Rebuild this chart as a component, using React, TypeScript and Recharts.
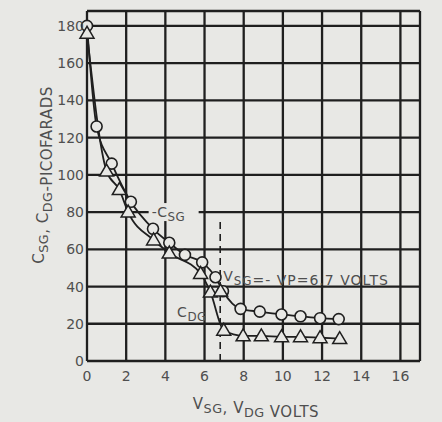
import React from "react";
import {
  LineChart,
  Line,
  XAxis,
  YAxis,
  CartesianGrid,
  ReferenceLine,
  ReferenceDot,
  Scatter,
} from "recharts";

// C_SG, circles
const csgVolts = [0, 0.49, 1.26, 2.24, 3.37, 4.2, 5.0, 5.88, 6.56, 6.94, 7.84, 8.82, 9.93, 10.9, 11.9, 12.85];
const csgPf = [180, 126, 106, 85.5, 71, 63.5, 57, 53, 45, 37.5, 28, 26.5, 25, 24, 23, 22.5];

// C_DG, triangles
const cdgVolts = [0, 1.0, 1.65, 2.1, 3.4, 4.2, 5.8, 6.3, 6.98, 7.97, 8.9, 9.93, 10.9, 11.9, 12.9];
const cdgPf = [176, 102, 92, 80, 65, 58, 47, 37, 16.5, 13.5, 13.5, 13, 13, 12.5, 12];

// stray triangle sitting on the C_SG curve
const strayVolts = [6.82];
const strayPf = [37.5];

const xTicks = [0, 2, 4, 6, 8, 10, 12, 14, 16];
const yTicks = [0, 20, 40, 60, 80, 100, 120, 140, 160, 180];
const pinchOff = 6.8;

const csgData = csgVolts.map((x, i) => ({ x, y: csgPf[i] }));
const cdgData = cdgVolts.map((x, i) => ({ x, y: cdgPf[i] }));
const strayData = strayVolts.map((x, i) => ({ x, y: strayPf[i] }));

const BG = "#e8e8e5";
const INK = "#1f1f1f";
const TEXT = "#4f4f4f";
const FONT = "'DejaVu Sans', sans-serif";

const Circle = (props: any) => {
  const { cx, cy } = props;
  if (cx == null || cy == null) return null;
  return <circle cx={cx} cy={cy} r={5.5} fill={BG} stroke={INK} strokeWidth={1.6} />;
};

const Triangle = (props: any) => {
  const { cx, cy } = props;
  if (cx == null || cy == null) return null;
  const s = 7;
  const pts = `${cx},${cy - s} ${cx - s},${cy + s * 0.7} ${cx + s},${cy + s * 0.7}`;
  return <polygon points={pts} fill={BG} stroke={INK} strokeWidth={1.5} />;
};

const Sub = ({ main, sub }: { main: string; sub: string }) => (
  <>
    <tspan>{main}</tspan>
    <tspan dy={4} fontSize="0.85em">{sub}</tspan>
    <tspan dy={-4}></tspan>
  </>
);

const note = (parts: React.ReactNode, w: number, spacing = 0.5) => (props: any) => {
  const { viewBox } = props;
  const x = viewBox.x;
  const y = viewBox.y;
  return (
    <g>
      {w > 0 && <rect x={x - 3} y={y - 9} width={w} height={18} fill={BG} />}
      <text x={x} y={y + 5} fontFamily={FONT} fontSize={14} fill={TEXT} letterSpacing={spacing}>
        {parts}
      </text>
    </g>
  );
};

export default function App() {
  return (
    <div style={{ position: "fixed", left: 0, top: 0, width: 442, height: 422, background: BG }}>
      <LineChart width={442} height={422} margin={{ top: 11, right: 22, bottom: 31, left: 47 }}>
        <CartesianGrid stroke={INK} strokeWidth={2.3} />
        <XAxis
          type="number"
          dataKey="x"
          domain={[0, 17]}
          ticks={xTicks}
          axisLine={false}
          tickLine={false}
          height={30}
          tickMargin={4}
          tick={{ fill: TEXT, fontSize: 14, fontFamily: FONT }}
          label={() => (
            <text x={256} y={409} textAnchor="middle" fontFamily={FONT} fontSize={15} fill={TEXT} letterSpacing={0.5}>
              <Sub main="V" sub="SG" />
              <tspan>, </tspan>
              <Sub main="V" sub="DG" />
              <tspan> VOLTS</tspan>
            </text>
          )}
        />
        <YAxis
          type="number"
          domain={[0, 188]}
          ticks={yTicks}
          axisLine={false}
          tickLine={false}
          width={40}
          tickSize={2}
          tickMargin={1}
          tick={{ fill: TEXT, fontSize: 14, fontFamily: FONT }}
          label={() => (
            <text
              x={0}
              y={0}
              transform="translate(44,175) rotate(-90)"
              textAnchor="middle"
              fontFamily={FONT}
              fontSize={15}
              fill={TEXT}
              letterSpacing={0.5}
            >
              <Sub main="C" sub="SG" />
              <tspan>, </tspan>
              <Sub main="C" sub="DG" />
              <tspan>-PICOFARADS</tspan>
            </text>
          )}
        />
        <ReferenceLine
          segment={[{ x: pinchOff, y: 0 }, { x: pinchOff, y: 77 }]}
          stroke={INK}
          strokeWidth={1.6}
          strokeDasharray="7 5"
        />
        <ReferenceDot
          x={3.3}
          y={80}
          r={0}
          label={note(<><tspan>-</tspan><Sub main="C" sub="SG" /></>, 50)}
        />
        <ReferenceDot x={4.6} y={26.5} r={0} label={note(<Sub main="C" sub="DG" />, 0)} />
        <ReferenceDot
          x={6.95}
          y={45.5}
          r={0}
          label={note(
            <>
              <Sub main="V" sub="SG" />
              <tspan>=- VP=6.7 VOLTS</tspan>
            </>,
            0,
            1
          )}
        />
        <Line
          data={csgData}
          dataKey="y"
          type="monotone"
          stroke={INK}
          strokeWidth={1.8}
          dot={<Circle />}
          activeDot={false}
          isAnimationActive={false}
        />
        <Line
          data={cdgData}
          dataKey="y"
          type="monotone"
          stroke={INK}
          strokeWidth={1.8}
          dot={<Triangle />}
          activeDot={false}
          isAnimationActive={false}
        />
        <Scatter data={strayData} dataKey="y" shape={<Triangle />} isAnimationActive={false} />
      </LineChart>
    </div>
  );
}
